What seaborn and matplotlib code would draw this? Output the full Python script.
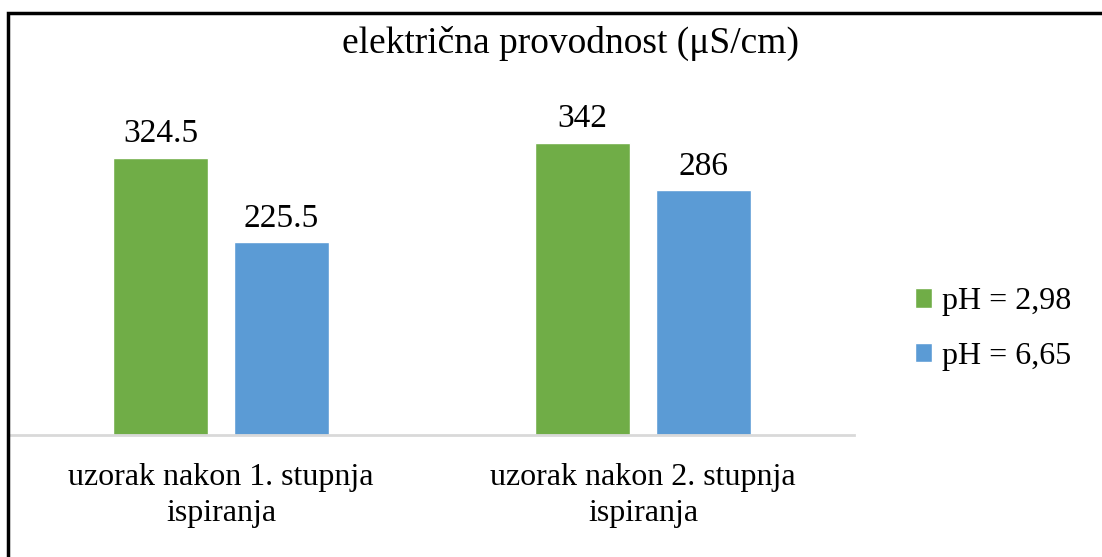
import matplotlib
matplotlib.use("Agg")
import matplotlib.pyplot as plt
import pandas as pd
import seaborn as sns
from matplotlib.patches import Rectangle

# data
categories = ["uzorak nakon 1. stupnja\nispiranja", "uzorak nakon 2. stupnja\nispiranja"]
series_names = ["pH = 2,98", "pH = 6,65"]
values_ph_298 = [324.5, 342]
values_ph_665 = [225.5, 286]
value_labels = [["324.5", "342"], ["225.5", "286"]]
title = "električna provodnost (μS/cm)"

colors = ["#70AD47", "#5B9BD5"]

df = pd.DataFrame({
    "uzorak": categories * 2,
    "serija": [series_names[0]] * 2 + [series_names[1]] * 2,
    "vrijednost": values_ph_298 + values_ph_665,
})

sns.set_theme(style="white")
plt.rcParams["font.family"] = ["Liberation Serif", "DejaVu Serif"]
plt.rcParams["text.color"] = "black"
plt.rcParams["xtick.color"] = "black"

W, H = 1102, 557
fig = plt.figure(figsize=(W / 100, H / 100), dpi=100)
ax = fig.add_axes([10 / W, (H - 435) / H, 844 / W, 342 / H])

sns.barplot(
    data=df, x="uzorak", y="vrijednost", hue="serija",
    palette=colors, width=0.573, gap=0.22, ax=ax,
    saturation=1, legend=True,
)

ax.set_ylim(0, 400)
ax.set_xlim(-0.5, 1.5)
ax.set_xlabel("")
ax.set_ylabel("")
ax.set_yticks([])
for side in ["top", "left", "right"]:
    ax.spines[side].set_visible(False)
ax.spines["bottom"].set_color("#D9D9D9")
ax.spines["bottom"].set_linewidth(2)
ax.tick_params(axis="x", length=0, labelsize=23, pad=20, labelcolor="black")
for lbl in ax.get_xticklabels():
    lbl.set_linespacing(1.35)

for container, labels in zip(ax.containers, value_labels):
    ax.bar_label(container, labels=labels, fontsize=24, padding=6, color="black")

leg = ax.legend(
    loc="center left", bbox_to_anchor=(902 / W, 1 - 329 / H),
    bbox_transform=fig.transFigure, frameon=False, fontsize=23,
    handlelength=0.55, handleheight=0.55, handletextpad=0.3,
    labelspacing=0.8, borderaxespad=0,
)
for t in leg.get_texts():
    t.set_color("black")

fig.text(570 / W, 1 - 43 / H, title, ha="center", va="center", fontsize=27)

# outer chart border
fig.patches.append(Rectangle((7.5 / W, -0.1), 1.2, 1.1 - 12.5 / H,
                             transform=fig.transFigure, fill=False,
                             edgecolor="black", linewidth=2.5))

fig.savefig("out.png", dpi=100)
